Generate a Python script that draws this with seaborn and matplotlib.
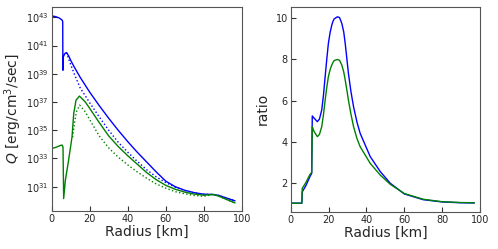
import numpy as np
import pandas as pd
import matplotlib
matplotlib.use("Agg")
import matplotlib.pyplot as plt
import seaborn as sns

# ---- data (log10 Q) ----
blue_x = [0, 2, 4, 5.5, 5.8, 5.9, 6.1, 7, 7.8, 9, 10, 12, 15, 20, 25, 30, 35, 40, 45, 50,
          55, 60, 65, 70, 75, 80, 85, 88, 92, 96.5]
blue_logq = [43.1, 43.05, 42.95, 42.8, 42.7, 39.25, 40.2, 40.45, 40.5, 40.25, 39.95, 39.45,
             38.75, 37.7, 36.75, 35.85, 35.0, 34.2, 33.45, 32.75, 32.05, 31.4, 31.0, 30.75,
             30.58, 30.47, 30.45, 30.38, 30.2, 30.0]

blue_dot_x = [7.8, 8.7, 10, 12, 15, 20, 25, 30, 35, 40, 45, 50, 55, 60, 65, 70, 75, 80, 85,
              88, 92, 96.5]
blue_dot_logq = [40.5, 40.15, 39.65, 38.95, 38.0, 36.95, 35.95, 35.0, 34.15, 33.45, 32.8,
                 32.2, 31.7, 31.3, 30.97, 30.73, 30.56, 30.46, 30.45, 30.38, 30.2, 30.0]

green_x = [0, 2, 4.5, 5.5, 5.95, 6.3, 7.2, 8.9, 10.7, 11.6, 12.8, 14.6, 17.7, 20, 25, 30, 35,
           40, 45, 50, 55, 60, 65, 70, 75, 80, 85, 88, 92, 96.5]
green_logq = [33.71, 33.78, 33.92, 33.95, 33.82, 30.16, 31.46, 32.88, 34.53, 36.19, 37.13,
              37.42, 37.0, 36.55, 35.55, 34.6, 33.85, 33.2, 32.6, 32.0, 31.5, 31.1, 30.82,
              30.62, 30.48, 30.4, 30.45, 30.33, 30.1, 29.85]

green_dot_x = [11.0, 12.0, 13.0, 14.7, 17.7, 20, 25, 30, 35, 40, 45, 50, 55, 60, 65, 70, 75,
               80, 85, 88, 92, 96.5]
green_dot_logq = [34.5, 35.5, 36.3, 36.78, 36.3, 35.75, 34.6, 33.75, 33.1, 32.55, 32.05,
                  31.6, 31.2, 30.9, 30.65, 30.5, 30.38, 30.32, 30.45, 30.33, 30.1, 29.85]

# ---- ratio data ----
ratio_x = [0, 5.9, 6.1, 8, 10.2, 11.1, 11.4, 12.3, 14.1, 15.2, 16.4, 17.3, 18.2, 19.0, 19.9,
           20.8, 21.7, 22.3, 23, 24.7, 25.8, 27.0, 28.0, 28.8, 29.6, 30.5, 31.8, 33.2, 35.0,
           36.7, 42, 47.3, 52.6, 60, 70, 80, 90, 97]
rb_y = [1.0, 1.0, 1.55, 1.85, 2.3, 2.45, 5.25, 5.15, 4.97, 5.1, 5.54, 6.25, 7.16, 7.95, 8.78,
        9.3, 9.67, 9.85, 9.98, 10.08, 10.04, 9.76, 9.35, 8.78, 8.1, 7.32, 6.45, 5.70, 4.95,
        4.40, 3.27, 2.54, 1.97, 1.45, 1.17, 1.06, 1.02, 1.01]
rg_y = [1.0, 1.0, 1.72, 2.0, 2.4, 2.5, 4.73, 4.5, 4.24, 4.35, 4.73, 5.3, 6.02, 6.6, 7.16,
        7.5, 7.73, 7.85, 7.95, 8.0, 7.96, 7.73, 7.4, 7.0, 6.55, 6.02, 5.35, 4.73, 4.15,
        3.75, 2.94, 2.37, 1.92, 1.47, 1.19, 1.07, 1.03, 1.02]

sns.set_style("white")
plt.rcParams['font.family'] = ['DejaVu Sans']

fig = plt.figure(figsize=(4.98, 2.49), dpi=100)
ax1 = fig.add_axes([0.1038, 0.1526, 0.3815, 0.8204])
ax2 = fig.add_axes([0.5837, 0.1486, 0.3802, 0.8244])

def q(v):
    return 10 ** np.asarray(v, dtype=float)

lw = 1.0
sns.lineplot(x=blue_x, y=q(blue_logq), ax=ax1, color='#0000ff', lw=lw, sort=False, estimator=None)
sns.lineplot(x=blue_dot_x, y=q(blue_dot_logq), ax=ax1, color='#0000ff', lw=lw, ls=':', sort=False, estimator=None)
sns.lineplot(x=green_x, y=q(green_logq), ax=ax1, color='#008000', lw=lw, sort=False, estimator=None)
sns.lineplot(x=green_dot_x, y=q(green_dot_logq), ax=ax1, color='#008000', lw=lw, ls=':', sort=False, estimator=None)
ax1.set_yscale('log')
ax1.set_ylim(10 ** 29.28, 10 ** 43.75)
ax1.set_xlim(0, 100)
ax1.set_yticks([10.0 ** e for e in range(31, 44, 2)])
ax1.minorticks_off()
ax1.set_xlabel('Radius [km]', fontsize=10, labelpad=1)
ax1.set_ylabel('$Q$ [erg/cm$^3$/sec]', fontsize=10, labelpad=2)

sns.lineplot(x=ratio_x, y=rb_y, ax=ax2, color='#0000ff', lw=lw, sort=False, estimator=None)
sns.lineplot(x=ratio_x, y=rg_y, ax=ax2, color='#008000', lw=lw, sort=False, estimator=None)
ax2.set_xlim(0, 100)
ax2.set_ylim(0.57, 10.57)
ax2.set_yticks([2, 4, 6, 8, 10])
ax2.set_xlabel('Radius [km]', fontsize=10, labelpad=1)
ax2.set_ylabel('ratio', fontsize=10, labelpad=4)

for ax in (ax1, ax2):
    ax.set_xticks([0, 20, 40, 60, 80, 100])
    ax.tick_params(axis='both', direction='in', labelsize=7, length=3.5, width=0.8,
                   color='#333333', pad=2, left=True, bottom=True)
    for s in ax.spines.values():
        s.set_color('#555555')
        s.set_linewidth(0.8)

fig.savefig('out.png', dpi=100)
